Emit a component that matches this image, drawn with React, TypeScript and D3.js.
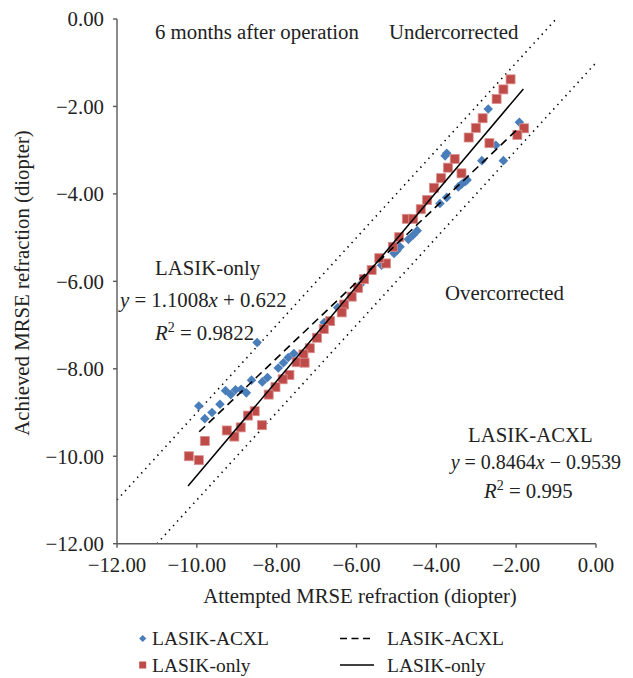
import React from "react";
import * as d3 from "d3";

// LASIK-ACXL (blue diamonds): [attempted, achieved]
const acxlAttempted = [-2.70, -1.92, -2.51, -2.32, -2.86, -3.74, -3.78, -3.23, -3.28, -3.37, -3.45, -3.74, -3.91, -4.48, -4.58, -4.70, -4.91, -4.99, -5.06, -5.33, -5.37, -5.91, -6.47, -6.81, -7.57, -7.71, -7.83, -7.96, -8.23, -8.36, -8.63, -8.49, -8.76, -8.89, -9.03, -9.15, -9.28, -9.42, -9.62, -9.80, -9.95];
const acxlAchieved = [-2.06, -2.36, -2.89, -3.24, -3.24, -3.07, -3.13, -3.68, -3.72, -3.78, -3.84, -4.08, -4.22, -4.84, -4.94, -5.04, -5.21, -5.30, -5.36, -5.59, -5.63, -6.08, -6.60, -6.94, -7.65, -7.74, -7.86, -7.98, -8.20, -8.30, -8.26, -7.40, -8.55, -8.47, -8.48, -8.59, -8.50, -8.81, -9.00, -9.14, -8.85];

// LASIK-only (red squares)
const onlyAttempted = [-2.14, -2.32, -2.49, -2.84, -3.01, -3.19, -1.80, -1.97, -2.67, -3.54, -3.71, -3.37, -3.88, -4.06, -4.23, -4.39, -4.74, -4.58, -4.93, -5.09, -5.26, -5.43, -5.62, -5.81, -5.96, -6.12, -6.31, -6.37, -6.66, -6.82, -6.99, -7.17, -7.33, -7.50, -7.30, -7.68, -7.85, -8.03, -8.20, -8.55, -8.72, -8.37, -8.90, -9.06, -9.25, -9.80, -10.20, -9.95];
const onlyAchieved = [-1.38, -1.61, -1.83, -2.27, -2.49, -2.71, -2.50, -2.65, -2.84, -3.20, -3.40, -3.53, -3.64, -3.86, -4.14, -4.35, -4.57, -4.57, -4.99, -5.21, -5.59, -5.47, -5.74, -5.95, -6.15, -6.35, -6.53, -6.71, -6.91, -7.09, -7.29, -7.53, -7.67, -7.85, -7.86, -8.14, -8.24, -8.42, -8.59, -8.97, -9.07, -9.29, -9.34, -9.55, -9.41, -9.65, -10.00, -10.09];

// Trend lines (endpoints as drawn)
const acxlTrendX = [-9.94, -2.0];
const acxlTrendY = [-9.44, -2.55];
const onlyTrendX = [-10.22, -1.82];
const onlyTrendY = [-10.68, -1.60];

// ±1 D reference lines
const upperRefX = [-12, -1];
const upperRefY = [-11, 0];
const lowerRefX = [-11, 0];
const lowerRefY = [-12, -1];

const xTicks = [-12, -10, -8, -6, -4, -2, 0];
const yTicks = [0, -2, -4, -6, -8, -10, -12];

const BLUE = "#4A7EBB";
const RED = "#BE4B48";
const AXIS = "#595959";
const FONT = "'Liberation Serif', 'DejaVu Serif', serif";
const FS = 20.8;

const fmt = (v: number) => (v < 0 ? "\u2212" + Math.abs(v).toFixed(2) : v.toFixed(2));

export default function App() {
  const W = 633, H = 678;
  const x = d3.scaleLinear().domain([-12, 0]).range([117, 596]);
  const y = d3.scaleLinear().domain([0, -12]).range([19, 543.7]);
  const line = d3.line<[number, number]>().x((d) => x(d[0])).y((d) => y(d[1]));
  const pts = (xs: number[], ys: number[]) => xs.map((v, i) => [v, ys[i]] as [number, number]);

  const diamond = (cx: number, cy: number, r: number) =>
    `M${cx},${cy - r}L${cx + r},${cy}L${cx},${cy + r}L${cx - r},${cy}Z`;

  return (
    <svg width={W} height={H} style={{ position: "fixed", left: 0, top: 0, background: "#fff" }} fontFamily={FONT}>
      <rect width={W} height={H} fill="#fff" />
      {/* reference dotted lines */}
      <path d={line(pts(upperRefX, upperRefY)) || ""} stroke="#000" strokeWidth={1.6} strokeDasharray="1.4 4.6" fill="none" />
      <path d={line(pts(lowerRefX, lowerRefY)) || ""} stroke="#000" strokeWidth={1.6} strokeDasharray="1.4 4.6" fill="none" />

      {/* points */}
      {acxlAttempted.map((v, i) => (
        <path key={"b" + i} d={diamond(x(v), y(acxlAchieved[i]), 4.8)} fill={BLUE} />
      ))}
      {onlyAttempted.map((v, i) => (
        <rect key={"r" + i} x={x(v) - 4.5} y={y(onlyAchieved[i]) - 4.5} width={9} height={9} fill={RED} stroke="#D9908E" strokeWidth={0.8} />
      ))}

      {/* trend lines */}
      <path d={line(pts(acxlTrendX, acxlTrendY)) || ""} stroke="#000" strokeWidth={1.6} strokeDasharray="8 5" fill="none" />
      <path d={line(pts(onlyTrendX, onlyTrendY)) || ""} stroke="#000" strokeWidth={1.5} fill="none" />

      {/* axes */}
      <line x1={x(-12)} x2={x(-12)} y1={y(0)} y2={y(-12)} stroke={AXIS} strokeWidth={1.4} />
      <line x1={x(-12)} x2={x(0)} y1={y(-12)} y2={y(-12)} stroke={AXIS} strokeWidth={1.4} />
      {yTicks.map((t) => (
        <g key={"yt" + t}>
          <line x1={x(-12) - 4} x2={x(-12)} y1={y(t)} y2={y(t)} stroke={AXIS} strokeWidth={1.4} />
          <text x={104} y={y(t)} dy="0.35em" textAnchor="end" fontSize={FS} fill="#222">{fmt(t)}</text>
        </g>
      ))}
      {xTicks.map((t) => (
        <g key={"xt" + t}>
          <line x1={x(t)} x2={x(t)} y1={y(-12)} y2={y(-12) + 4} stroke={AXIS} strokeWidth={1.4} />
          <text x={x(t)} y={572} textAnchor="middle" fontSize={FS} fill="#222">{fmt(t)}</text>
        </g>
      ))}

      {/* axis titles */}
      <text x={360} y={603} textAnchor="middle" fontSize={FS} fill="#222">Attempted MRSE refraction (diopter)</text>
      <text transform={`translate(29,283) rotate(-90)`} textAnchor="middle" fontSize={FS} fill="#222">Achieved MRSE refraction (diopter)</text>

      {/* annotations */}
      <g fontSize={FS} fill="#222">
        <text x={155} y={39}>6 months after operation</text>
        <text x={389} y={39}>Undercorrected</text>
        <text x={155} y={275}>LASIK-only</text>
        <text x={120} y={307}><tspan fontStyle="italic">y</tspan> = 1.1008<tspan fontStyle="italic">x</tspan> + 0.622</text>
        <text x={155} y={340}><tspan fontStyle="italic">R</tspan><tspan dy={-8} fontSize={14}>2</tspan><tspan dy={8}> = 0.9822</tspan></text>
        <text x={445} y={300}>Overcorrected</text>
        <text x={468} y={442}>LASIK-ACXL</text>
        <text x={621} y={469} textAnchor="end" fontSize={20}><tspan fontStyle="italic">y</tspan> = 0.8464<tspan fontStyle="italic">x</tspan> − 0.9539</text>
        <text x={484} y={498}><tspan fontStyle="italic">R</tspan><tspan dy={-8} fontSize={14}>2</tspan><tspan dy={8}> = 0.995</tspan></text>
      </g>

      {/* legend */}
      <g fontSize={19.5} fill="#222">
        <path d={diamond(142.7, 638.5, 3.6)} fill={BLUE} />
        <text x={152} y={638.5} dy="0.35em">LASIK-ACXL</text>
        <rect x={139.2} y={661.5} width={7} height={7} fill={RED} />
        <text x={152} y={665} dy="0.35em">LASIK-only</text>
        <line x1={340} x2={374} y1={638.5} y2={638.5} stroke="#000" strokeWidth={1.4} strokeDasharray="7 4.5" />
        <text x={387} y={638.5} dy="0.35em">LASIK-ACXL</text>
        <line x1={340} x2={374} y1={665} y2={665} stroke="#000" strokeWidth={1.4} />
        <text x={387} y={665} dy="0.35em">LASIK-only</text>
      </g>
    </svg>
  );
}
